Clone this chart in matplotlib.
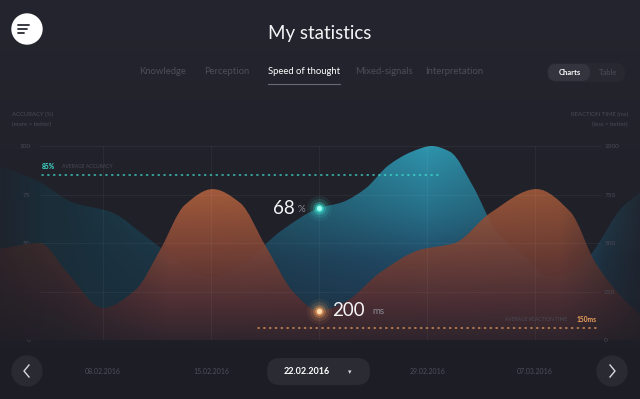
import numpy as np
import matplotlib
matplotlib.use('Agg')
import matplotlib.pyplot as plt
import matplotlib.colors as mcolors
import matplotlib.transforms as mtransforms
from matplotlib.path import Path
from matplotlib.patches import PathPatch, Circle, FancyBboxPatch

plt.rcParams['font.family'] = ['Lato', 'DejaVu Sans']

# --- data ---
tabs = ['Knowledge', 'Perception', 'Speed of thought', 'Mixed-signals', 'Interpretation']
tab_x = [163, 227, 304, 384, 454]
active_tab = 2

date_days = [0, 7, 14, 21, 28]
date_labels = ['08.02.2016', '15.02.2016', '22.02.2016', '29.02.2016', '07.03.2016']
selected = 2

acc_ticks = [0, 25, 50, 75, 100]
rt_ticks = [0, 250, 500, 750, 1000]

# accuracy (%) - teal area
acc_days = [-6.7, -4, -2, 0.5, 3, 5, 7, 9, 11.5, 14, 15.5, 17, 18.5, 20, 21.3, 22.5, 24,
            25.5, 27.5, 29, 30.8, 31.8, 33.6, 34.8]
acc_vals = [90, 81, 71, 66, 52, 40, 32, 39, 56, 68, 71, 78, 90, 97, 100, 97, 79,
            56, 42, 32, 37, 46, 68, 76]

# reaction time (ms) - orange area
rt_days = [-6.7, -4.1, -2.3, 0, 2.1, 3.7, 5.3, 7.1, 8.9, 10.5, 12.4, 14, 15.7, 18,
           20.5, 22.8, 25.1, 28.1, 30.3, 31.9, 33.5, 34.8]
rt_vals = [470, 500, 345, 165, 258, 464, 696, 778, 706, 490, 242, 150, 196, 350,
           464, 500, 655, 778, 660, 400, 232, 129]

avg_acc = 85
avg_rt_pos = 62
avg_rt_label = '150ms'
sel_acc = 68
sel_rt_label = '200'

BG_TOP = '#25252f'
BG_BOT = '#1d1d25'
TEAL = '#3fe3d2'
ORANGE = '#f0a25e'


def smooth_path(xs, ys, base):
    xs = np.asarray(xs, float)
    ys = np.asarray(ys, float)
    d = np.diff(ys) / np.diff(xs)
    m = np.zeros_like(ys)
    m[0], m[-1] = d[0], d[-1]
    for i in range(1, len(xs) - 1):
        if d[i - 1] * d[i] > 0:
            m[i] = 2.0 / (1.0 / d[i - 1] + 1.0 / d[i])
    verts = [(xs[0], base), (xs[0], ys[0])]
    codes = [Path.MOVETO, Path.LINETO]
    for i in range(len(xs) - 1):
        h = xs[i + 1] - xs[i]
        verts += [(xs[i] + h / 3, ys[i] + m[i] * h / 3),
                  (xs[i + 1] - h / 3, ys[i + 1] - m[i + 1] * h / 3),
                  (xs[i + 1], ys[i + 1])]
        codes += [Path.CURVE4] * 3
    verts += [(xs[-1], base), (xs[0], base)]
    codes += [Path.LINETO, Path.CLOSEPOLY]
    return Path(verts, codes)


def rgb(h):
    return np.array(mcolors.to_rgb(h))


def vgrad(PY, ys, cols):
    out = np.zeros(PY.shape + (3,))
    cs = np.array([rgb(c) for c in cols])
    for c in range(3):
        out[..., c] = np.interp(PY, ys, cs[:, c])
    return out


fig = plt.figure(figsize=(6.4, 3.99), dpi=100)

# background / UI layer in pixel coordinates
bg = fig.add_axes([0, 0, 1, 1])
grad = np.linspace(0, 1, 200)[:, None, None]
bg_img = rgb(BG_TOP) * (1 - grad) + rgb(BG_BOT) * grad
bg.imshow(np.repeat(bg_img, 2, axis=1), extent=(0, 640, 399, 0), aspect='auto')
bg.set_xlim(0, 640)
bg.set_ylim(399, 0)
bg.axis('off')

# menu button
bg.add_patch(Circle((27, 29), 15, color='white', zorder=3))
for yy, x1 in [(25, 29), (29, 27), (33, 24)]:
    bg.plot([18, x1], [yy, yy], color='#2a2a33', lw=1.3, solid_capstyle='round', zorder=4)

bg.text(320, 33, 'My statistics', color='#f4f4f7', fontsize=13.5,
        ha='center', va='center')

for i, (t, x) in enumerate(zip(tabs, tab_x)):
    active = i == active_tab
    bg.text(x, 72, t, color='white' if active else '#4e4e5a', fontsize=6.8,
            ha='center', va='center')
bg.plot([268, 340], [84, 84], color='#6a6a75', lw=0.8)

# charts / table toggle
bg.add_patch(FancyBboxPatch((547, 63), 78, 19, boxstyle='round,pad=0,rounding_size=9',
                            fc='#282831', ec='none'))
bg.add_patch(FancyBboxPatch((548, 64), 42, 17, boxstyle='round,pad=0,rounding_size=8',
                            fc='#34343e', ec='none'))
bg.text(570, 72.5, 'Charts', color='white', fontsize=5.5, fontweight='bold', ha='center', va='center')
bg.text(608, 72.5, 'Table', color='#4e4e5a', fontsize=5.5, ha='center', va='center')

# axis titles
bg.text(12, 114, 'ACCURACY (%)', color='#4a4a55', fontsize=4.3, ha='left', va='center')
bg.text(12, 124, '(more = better)', color='#4a4a55', fontsize=4.3, ha='left', va='center')
bg.text(628, 114, 'REACTION TIME (ms)', color='#4a4a55', fontsize=4.3, ha='right', va='center')
bg.text(628, 124, '(less = better)', color='#4a4a55', fontsize=4.3, ha='right', va='center')

# bottom navigation
for cx, ch in [(27, 1), (612, -1)]:
    bg.add_patch(Circle((cx, 371), 15, color='#2a2a33', zorder=3))
    bg.plot([cx + 2 * ch, cx - 3 * ch, cx + 2 * ch], [365, 371, 377], color='#d8d8de',
            lw=1.0, zorder=4)
bg.add_patch(FancyBboxPatch((267, 358), 103, 27, boxstyle='round,pad=0,rounding_size=13',
                            fc='#2b2b34', ec='none', zorder=3))

# --- chart axes: x in days from 08.02.2016, y in percent / ms ---
px_day = (535 - 103) / 28.0
xlim = (-103 / px_day, (640 - 103) / px_day)
ax = fig.add_axes([0, 59 / 399, 1, 194 / 399])
ax.patch.set_visible(False)
ax2 = ax.twinx()

W, H = 640, 194
PX, PY = np.meshgrid(np.arange(W) + 0.5, 340 - (np.arange(H) + 0.5))

# teal gradient: cyan at the top, navy lower, dimmer away from the peak
vert = vgrad(PY, [146, 210, 260, 340], ['#2e94ac', '#277089', '#214a66', '#1c2c40'])
s = (np.clip(1 - np.abs(PX - 425) / 370, 0, 1) ** 1.1)[..., None]
low = rgb('#1a2d39')
t_alpha = np.interp(PX, [0, 45, 585, 605, 640], [0.25, 1, 1, 0.55, 0.2])
teal_img = np.dstack([low * (1 - s) + vert * s, t_alpha])

acc_path = smooth_path(acc_days, acc_vals, 0)
acc_patch = PathPatch(acc_path, fc='none', ec='none')
ax.add_patch(acc_patch)
im1 = ax.imshow(teal_img, extent=(xlim[0], xlim[1], 0, 100), origin='lower',
                aspect='auto', interpolation='bilinear', zorder=1)
im1.set_clip_path(acc_patch)

# orange gradient: vertical, dimmed toward both edges
o_img = vgrad(PY, [188, 250, 300, 340], ['#b0613d', '#7f4537', '#553033', '#33252c'])
dim = np.interp(PX, [0, 60, 170, 470, 560, 600, 640], [0.2, 0.35, 1.0, 0.92, 0.88, 0.6, 0.3])
o_img = rgb(BG_BOT) + (o_img - rgb(BG_BOT)) * dim[..., None]
orange_img = np.dstack([o_img, np.full(PX.shape, 0.92)])

rt_path = smooth_path(rt_days, rt_vals, 0)
rt_patch = PathPatch(rt_path, fc='none', ec='none')
ax2.add_patch(rt_patch)
im2 = ax2.imshow(orange_img, extent=(xlim[0], xlim[1], 0, 1000), origin='lower',
                 aspect='auto', interpolation='bilinear', zorder=1)
im2.set_clip_path(rt_patch)

# grid on top, very faint
for v in rt_ticks[1:]:
    ax2.axhline(v, xmin=40 / 640, xmax=600 / 640, color='white', alpha=0.045, lw=0.7, zorder=2)
for d in date_days:
    ax2.axvline(d, color='white', alpha=0.045, lw=0.7, zorder=2)

# average lines
ax.axhline(avg_acc, xmin=42 / 640, xmax=440 / 640, color=TEAL, lw=1.1,
           linestyle=(0, (0.8, 3.0)), dash_capstyle='round', alpha=0.85, zorder=3)
ax2.axhline(avg_rt_pos, xmin=258 / 640, xmax=597 / 640, color=ORANGE, lw=1.1,
            linestyle=(0, (0.8, 3.0)), dash_capstyle='round', alpha=0.85, zorder=3)
tr_a = mtransforms.blended_transform_factory(ax.transAxes, ax.transData)
ax.annotate(f'{avg_acc}%', (42 / 640, avg_acc), xycoords=tr_a, xytext=(0, 9),
            textcoords='offset pixels', color=TEAL, fontsize=4.8, fontweight='bold',
            ha='left', va='center')
ax.annotate('AVERAGE ACCURACY', (62 / 640, avg_acc), xycoords=tr_a, xytext=(0, 9),
            textcoords='offset pixels', color='#4a4a55', fontsize=3.6, ha='left', va='center')
tr_b = mtransforms.blended_transform_factory(ax2.transAxes, ax2.transData)
ax2.annotate(avg_rt_label, (597 / 640, avg_rt_pos), xycoords=tr_b, xytext=(0, 8),
             textcoords='offset pixels', color=ORANGE, fontsize=4.8, fontweight='bold',
             ha='right', va='center')
ax2.annotate('AVERAGE REACTION TIME', (567 / 640, avg_rt_pos), xycoords=tr_b, xytext=(0, 8),
             textcoords='offset pixels', color='#4a4a55', fontsize=3.6, ha='right', va='center')

# selected-day markers with glow
sel_day = date_days[selected]
sel_rt_pos = rt_vals[rt_days.index(sel_day)]
for sz, a in [(330, 0.07), (190, 0.14), (90, 0.3), (38, 0.7)]:
    ax.scatter([sel_day], [sel_acc], s=sz, color=TEAL, alpha=a, lw=0, zorder=5)
    ax2.scatter([sel_day], [sel_rt_pos], s=sz, color=ORANGE, alpha=a, lw=0, zorder=5)
ax.scatter([sel_day], [sel_acc], s=14, color='#a0fbf2', lw=0, zorder=6)
ax2.scatter([sel_day], [sel_rt_pos], s=14, color='#ffdcb0', lw=0, zorder=6)

ax.annotate(str(sel_acc), (sel_day, sel_acc), xytext=(-24, 0), textcoords='offset pixels',
            color='#f4f4f7', fontsize=13.5, ha='right', va='center', zorder=6)
ax.annotate('%', (sel_day, sel_acc), xytext=(-21, -1), textcoords='offset pixels',
            color='#8a8a95', fontsize=7, ha='left', va='center', zorder=6)
ax2.annotate(sel_rt_label, (sel_day, sel_rt_pos), xytext=(13, 0), textcoords='offset pixels',
             color='#f4f4f7', fontsize=13.5, ha='left', va='center', zorder=6)
ax2.annotate('ms', (sel_day, sel_rt_pos), xytext=(53, -1), textcoords='offset pixels',
             color='#8a8a95', fontsize=7, ha='left', va='center', zorder=6)

# axes styling
for a in (ax, ax2):
    for sp in a.spines.values():
        sp.set_visible(False)
ax.set_xlim(*xlim)
ax.set_ylim(0, 100)
ax2.set_ylim(0, 1000)
ax.spines['left'].set_position(('axes', 40 / 640))
ax2.spines['right'].set_position(('axes', 600 / 640))
ax.set_yticks(acc_ticks)
ax.set_yticklabels([str(v) for v in acc_ticks])
ax2.set_yticks(rt_ticks)
ax2.set_yticklabels([str(v) for v in rt_ticks])
ax.tick_params(axis='y', length=0, pad=7, labelsize=4.6, labelcolor='#4a4a55')
ax2.tick_params(axis='y', length=0, pad=3, labelsize=4.6, labelcolor='#4a4a55')
ax.set_xticks(date_days)
ax.set_xticklabels(['' if i == selected else l for i, l in enumerate(date_labels)])
ax.tick_params(axis='x', length=0, pad=20, labelsize=5.0, labelcolor='#4e4e5a')

tr_d = mtransforms.blended_transform_factory(ax.transData, bg.transData)
bg.text(sel_day - 0.8, 371.5, date_labels[selected], transform=tr_d, color='white',
        fontsize=6.5, fontweight='bold', ha='center', va='center', zorder=5)
bg.text(350, 372, '▾', color='#d8d8de', fontsize=5, ha='center', va='center', zorder=5)

fig.savefig('out.png', dpi=100)
